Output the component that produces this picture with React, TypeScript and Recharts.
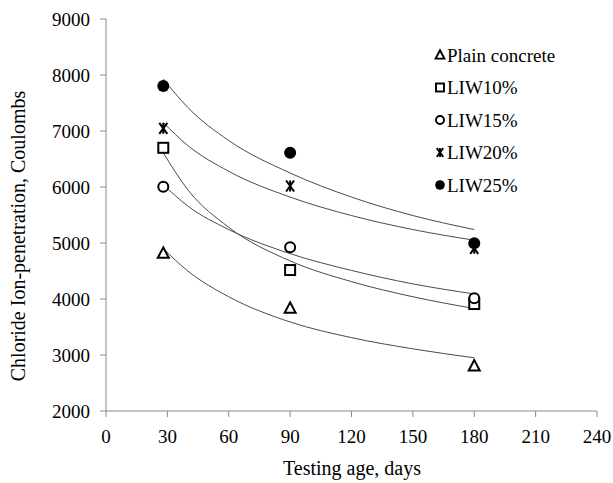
import {
  ComposedChart, Line, Scatter, XAxis, YAxis, Legend
} from "recharts";

const days = [28, 90, 180];
const plain = [4815, 3833, 2803];
const liw10 = [6700, 4517, 3910];
const liw15 = [6005, 4923, 4015];
const liw20 = [7048, 6018, 4905];
const liw25 = [7803, 6612, 4994];

// trend curves
const trendDays = [28, 40, 60, 90, 120, 150, 180];
const trendPlain = [4900, 4500, 4040, 3590, 3310, 3110, 2950];
const trend10 = [6610, 5950, 5280, 4680, 4310, 4040, 3830];
const trend15 = [6040, 5660, 5240, 4810, 4510, 4270, 4090];
const trend20 = [7150, 6740, 6280, 5820, 5490, 5240, 5050];
const trend25 = [7930, 7420, 6830, 6250, 5820, 5490, 5240];

const xTicks = [0, 30, 60, 90, 120, 150, 180, 210, 240];
const yTicks = [2000, 3000, 4000, 5000, 6000, 7000, 8000, 9000];

const FONT = "Liberation Serif";
const AXIS = "#8a8a8a";
const CURVE = "#4a4a4a";

const toPoints = (xs: number[], ys: number[]) => xs.map((x, i) => ({ x, y: ys[i] }));

type MarkerKind = "triangle" | "square" | "circle" | "star" | "dot";

const Marker = ({ kind, cx, cy, s = 1 }: { kind: MarkerKind; cx: number; cy: number; s?: number }) => {
  const sw = 2 * Math.min(1, s + 0.15);
  if (kind === "triangle") {
    const p = `${cx},${cy - 6 * s} ${cx - 5.5 * s},${cy + 4.5 * s} ${cx + 5.5 * s},${cy + 4.5 * s}`;
    return <polygon points={p} fill="#fff" stroke="#000" strokeWidth={sw} strokeLinejoin="miter" />;
  }
  if (kind === "square") {
    return <rect x={cx - 5 * s} y={cy - 5 * s} width={10 * s} height={10 * s} fill="#fff" stroke="#000" strokeWidth={sw} />;
  }
  if (kind === "circle") {
    return <circle cx={cx} cy={cy} r={5 * s} fill="#fff" stroke="#000" strokeWidth={sw} />;
  }
  if (kind === "star") {
    const a = 4 * s, b = 5.5 * s;
    return (
      <g stroke="#000" strokeWidth={sw}>
        <line x1={cx - a} y1={cy - b} x2={cx + a} y2={cy + b} />
        <line x1={cx + a} y1={cy - b} x2={cx - a} y2={cy + b} />
        <line x1={cx} y1={cy - b} x2={cx} y2={cy + b} />
      </g>
    );
  }
  return <circle cx={cx} cy={cy} r={6 * s} fill="#000" />;
};

const series: { name: string; values: number[]; trend: number[]; kind: MarkerKind }[] = [
  { name: "Plain concrete", values: plain, trend: trendPlain, kind: "triangle" },
  { name: "LIW10%", values: liw10, trend: trend10, kind: "square" },
  { name: "LIW15%", values: liw15, trend: trend15, kind: "circle" },
  { name: "LIW20%", values: liw20, trend: trend20, kind: "star" },
  { name: "LIW25%", values: liw25, trend: trend25, kind: "dot" },
];

const LegendBox = () => (
  <svg width={170} height={165}>
    {series.map((s, i) => {
      const cy = 16 + i * 32.5;
      return (
        <g key={s.name}>
          <Marker kind={s.kind} cx={6} cy={cy} s={0.8} />
          <text x={13} y={cy} dominantBaseline="central" fontFamily={FONT} fontSize={19} fill="#000">
            {s.name}
          </text>
        </g>
      );
    })}
  </svg>
);

const YTick = ({ x, y, payload }: any) => (
  <text x={x - 8} y={y} textAnchor="end" dominantBaseline="central"
    fontFamily={FONT} fontSize={19} fill="#000">
    {payload.value}
  </text>
);

const XTick = ({ x, y, payload }: any) => (
  <text x={x} y={y + 17} textAnchor="middle" dominantBaseline="central"
    fontFamily={FONT} fontSize={19} fill="#000">
    {payload.value}
  </text>
);

const App = () => {
  return (
    <div style={{ position: "absolute", left: 0, top: 0, background: "#fff" }}>
      <ComposedChart width={613} height={483} margin={{ top: 19, right: 16, bottom: 42, left: 0 }}>
        <XAxis
          type="number"
          dataKey="x"
          domain={[0, 240]}
          ticks={xTicks}
          interval={0}
          height={30}
          tickSize={6}
          axisLine={{ stroke: AXIS }}
          tickLine={{ stroke: AXIS }}
          tick={<XTick />}
          label={{
            content: () => (
              <text x={352} y={468} textAnchor="middle" dominantBaseline="central"
                fontFamily={FONT} fontSize={20} fill="#000">
                Testing age, days
              </text>
            ),
          }}
        />
        <XAxis xAxisId="top" orientation="top" type="number" domain={[0, 240]} height={0}
          tick={false} tickLine={false} axisLine={{ stroke: AXIS }} />
        <YAxis
          type="number"
          dataKey="y"
          domain={[2000, 9000]}
          ticks={yTicks}
          interval={0}
          width={106}
          tickSize={6}
          axisLine={{ stroke: AXIS }}
          tickLine={{ stroke: AXIS }}
          tick={<YTick />}
          label={{
            content: () => (
              <text x={18} y={236} transform="rotate(-90 18 236)" textAnchor="middle"
                dominantBaseline="central" fontFamily={FONT} fontSize={20} fill="#000">
                Chloride Ion-penetration, Coulombs
              </text>
            ),
          }}
        />
        <YAxis yAxisId="right" orientation="right" type="number" domain={[2000, 9000]} width={0}
          tick={false} tickLine={false} axisLine={{ stroke: AXIS }} />
        {series.map((s) => (
          <Line
            key={`t-${s.name}`}
            data={toPoints(trendDays, s.trend)}
            dataKey="y"
            type="monotone"
            stroke={CURVE}
            strokeWidth={1}
            dot={false}
            activeDot={false}
            legendType="none"
            isAnimationActive={false}
          />
        ))}
        {series.map((s) => (
          <Scatter
            key={`p-${s.name}`}
            name={s.name}
            data={toPoints(days, s.values)}
            dataKey="y"
            shape={(p: any) => <Marker kind={s.kind} cx={p.cx} cy={p.cy} />}
            isAnimationActive={false}
          />
        ))}
        <Legend
          layout="horizontal"
          verticalAlign="middle"
          align="center"
          content={() => <LegendBox />}
          wrapperStyle={{ left: 434, top: 39, width: 170 }}
        />
      </ComposedChart>
    </div>
  );
};

export default App;
